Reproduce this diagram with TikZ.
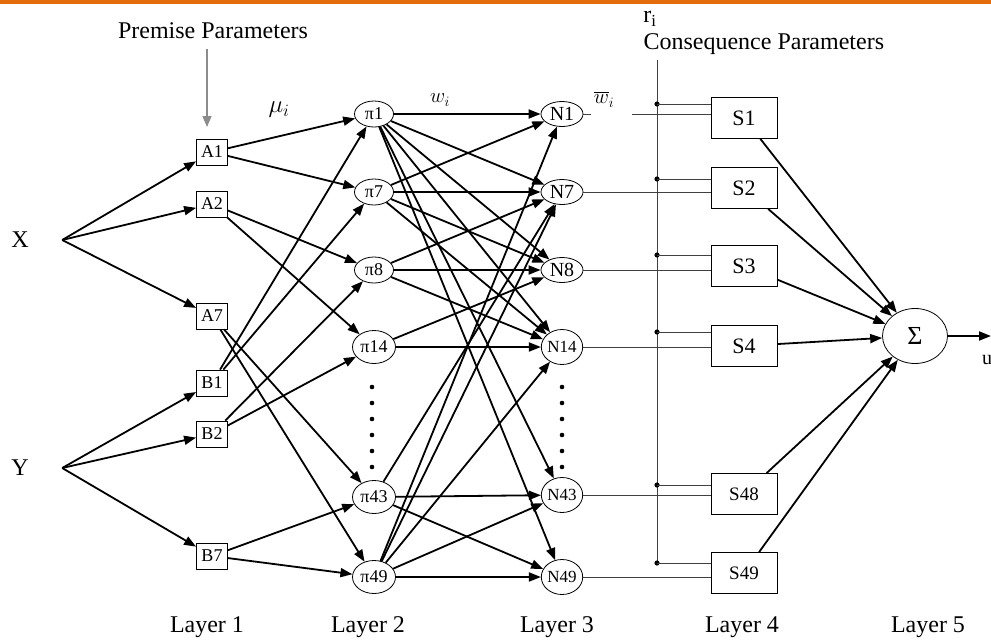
\documentclass[tikz,border=0pt]{standalone}
\usepackage{fontspec}
\setmainfont{Liberation Serif}
\usepackage{amsmath}
\usetikzlibrary{positioning,shapes.geometric,arrows.meta}

\definecolor{barorange}{RGB}{228,108,10}
\tikzset{
  inbox/.style={draw, line width=0.8pt, minimum width=31pt, minimum height=26pt, inner sep=0pt, font=\fontsize{18}{18}\selectfont},
  rulenode/.style={draw, ellipse, line width=0.8pt, minimum width=39pt, minimum height=26pt, inner sep=0pt, font=\fontsize{18}{18}\selectfont},
  rulebig/.style={rulenode, minimum width=43pt, minimum height=33pt, font=\fontsize{18}{18}\selectfont},
  normnode/.style={draw, ellipse, line width=0.8pt, minimum width=42pt, minimum height=25pt, inner sep=0pt, font=\fontsize{20}{20}\selectfont},
  normbig/.style={normnode, minimum width=41pt, minimum height=35pt, font=\fontsize{17}{17}\selectfont},
  consbox/.style={draw, line width=0.8pt, minimum width=66pt, minimum height=41pt, inner sep=0pt, font=\fontsize{22}{22}\selectfont},
  bigtext/.style={font=\fontsize{24}{24}\selectfont},
  link/.style={-{Triangle[length=12pt,width=9pt]}, line width=1.8pt},
  feed/.style={line width=0.7pt, black!75},
}

\begin{document}
\begin{tikzpicture}[x=1pt,y=-1pt]
    \useasboundingbox (0,0) rectangle (991,640);
    \fill[barorange] (0,0) rectangle (991,4);

    % inputs and layer 1
    \node[bigtext, minimum width=84pt] (X) at (20,240) {X};
    \node[bigtext, minimum width=84pt] (Y) at (20,468) {Y};
    \node[inbox] (a1) at (212,152) {A1};
    \node[inbox] (a2) at (212,204) {A2};
    \node[inbox] (a7) at (212,316) {A7};
    \node[inbox] (b1) at (212,383) {B1};
    \node[inbox] (b2) at (212,434) {B2};
    \node[inbox] (b7) at (212,556) {B7};

    % layer 2
    \node[rulenode] (p1) at (374,114) {π1};
    \node[rulenode] (p7) at (374,192) {π7};
    \node[rulenode] (p8) at (374,270) {π8};
    \node[rulebig] (p14) at (374,347) {π14};
    \node[rulebig] (p43) at (374,497) {π43};
    \node[rulebig] (p49) at (374,577) {π49};

    % layer 3
    \node[normnode] (n1) at (562,114) {N1};
    \node[normnode] (n7) at (562,192) {N7};
    \node[normnode] (n8) at (562,270) {N8};
    \node[normbig] (n14) at (562,347) {N14};
    \node[normbig] (n43) at (562,495) {N43};
    \node[normbig] (n49) at (562,577) {N49};

    % layer 4 and 5
    \node[consbox] (s1) at (744,118) {S1};
    \node[consbox] (s2) at (744,188) {S2};
    \node[consbox] (s3) at (744,266) {S3};
    \node[consbox] (s4) at (744,346) {S4};
    \node[consbox, font=\fontsize{19}{19}\selectfont] (s48) at (744,494) {S48};
    \node[consbox, font=\fontsize{19}{19}\selectfont] (s49) at (744,573) {S49};
    \node[draw, ellipse, line width=0.8pt, minimum width=65pt, minimum height=55pt, inner sep=0pt, font=\fontsize{26}{26}\selectfont] (sum) at (915,336) {Σ};
    \coordinate (uend) at (991,336);

    % texts
    \node[bigtext] (prem) at (213,31) {Premise Parameters};
    \coordinate (premtip) at (207,127);
    \node[bigtext] (ri) at (650,19) {r\textsubscript{i}};
    \node[bigtext, anchor=west] (cons) at (640,44) {Consequence Parameters};
    \node[font=\fontsize{24}{24}\selectfont] (mu) at (279,110) {$\mu_i$};
    \node[font=\fontsize{22}{22}\selectfont] (w) at (440,100) {$w_i$};
    \node[font=\fontsize{21}{21}\selectfont] (wbar) at (604,99) {$\overline{w}_i$};
    \node[font=\fontsize{20}{20}\selectfont] (u) at (987,360) {u};
    \node[bigtext] (l1) at (207,627) {Layer 1};
    \node[bigtext] (l2) at (368,627) {Layer 2};
    \node[bigtext] (l3) at (557,627) {Layer 3};
    \node[bigtext] (l4) at (742,627) {Layer 4};
    \node[bigtext] (l5) at (928,627) {Layer 5};

    \draw[-{Triangle[length=11pt,width=9pt]}, line width=1.5pt, black!45] (prem.south -| premtip) ++(0,6) -- (premtip);

    \path[link]
        (X.east) edge (a1) edge (a2) edge (a7)
        (Y.east) edge (b1) edge (b2) edge (b7)
        (a1) edge (p1) edge (p7)
        (a2) edge (p8) edge (p14)
        (a7) edge (p43) edge (p49)
        (b1) edge (p1) edge (p7)
        (b2) edge (p8) edge (p14)
        (b7) edge (p43) edge (p49);

    \path[link]
        (p1) edge (n1) edge (n7) edge (n8) edge (n14) edge (n43) edge (n49)
        (p7) edge (n1) edge (n7) edge (n8) edge (n14)
        (p8) edge (n7) edge (n8) edge (n14)
        (p14) edge (n8) edge (n14)
        (p43) edge (n7) edge (n43) edge (n49)
        (p49) edge (n1) edge (n7) edge (n14) edge (n43) edge (n49);

    \foreach \y in {387,403,419,435,451,467} {
        \fill (372,\y) circle (2.3pt);
        \fill (562,\y) circle (2.3pt);
    }

    % consequence parameters
    \coordinate (rtop) at (657,60);
    \coordinate (rbot) at (657,563);
    \draw[feed] (rtop) -- (rbot);
    \foreach \s/\n/\d in {s1/n1/104, s2/n7/179, s3/n8/255, s4/n14/332, s48/n43/485, s49/n49/563} {
        \fill (657,\d) circle (2.6pt);
        \draw[feed] (657,\d) -- (\s.west |- 0,\d);
    }
    \draw[feed] (n1.east) -- ++(8,0);
    \draw[feed] (n1.east) ++(49,0) -- (n1.east -| s1.west);
    \draw[feed] (n7.east) -- (n7.east -| s2.west);
    \draw[feed] (n8.east) -- (n8.east -| s3.west);
    \draw[feed] (n14.east) -- (n14.east -| s4.west);
    \draw[feed] (n43.east) -- (n43.east -| s48.west);
    \draw[feed] (n49.east) -- (n49.east -| s49.west);

    \path[link]
        (s1) edge (sum)
        (s2) edge (sum)
        (s3) edge (sum)
        (s4) edge (sum)
        (s48) edge (sum)
        (s49) edge (sum)
        (sum) edge (uend);
\end{tikzpicture}
\end{document}
